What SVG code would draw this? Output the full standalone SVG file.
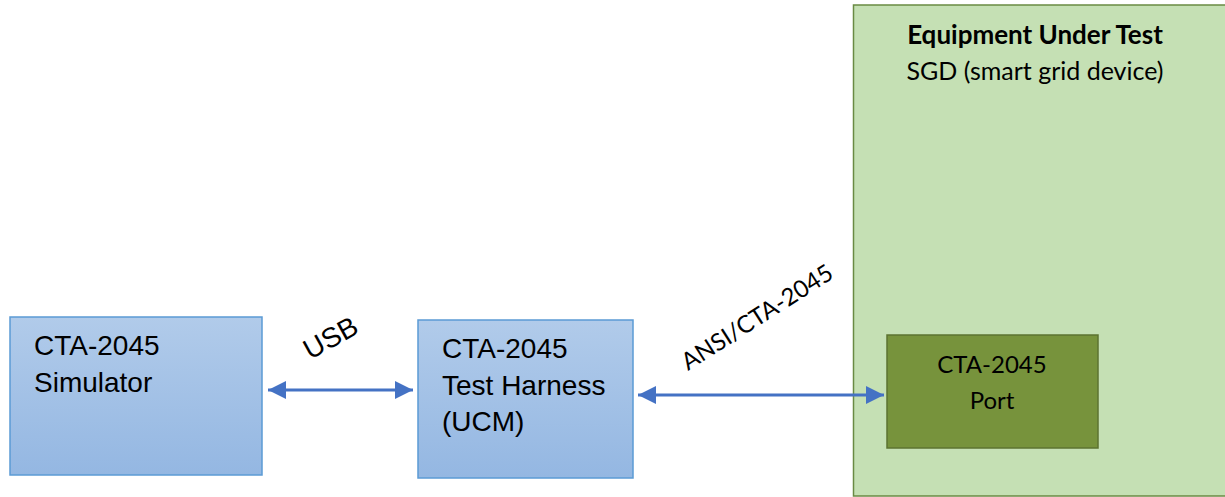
<svg xmlns="http://www.w3.org/2000/svg" width="1225" height="497" viewBox="0 0 1225 497">
  <defs>
    <linearGradient id="blueFill" x1="0" y1="0" x2="0" y2="1">
      <stop offset="0" stop-color="#B1CBEA"/>
      <stop offset="1" stop-color="#94B7E2"/>
    </linearGradient>
    <marker id="head" viewBox="0 0 10 10" refX="10" refY="5" markerWidth="6" markerHeight="6" markerUnits="strokeWidth" orient="auto-start-reverse">
      <path d="M0,0 L10,5 L0,10 Z" fill="#4472C4"/>
    </marker>
  </defs>
  <style>
    .blue { fill: url(#blueFill); stroke: #5B9BD5; stroke-width: 1.5; }
    .arial { font-family: "Liberation Sans", Arial, sans-serif; font-size: 28px; fill: #000; }
    .cal { font-family: Lato, "Liberation Sans", sans-serif; font-size: 24px; fill: #000; }
    .title { font-weight: bold; font-size: 26px; }
    .sub { font-size: 25px; }
    .link { stroke: #4472C4; stroke-width: 3; fill: none; marker-start: url(#head); marker-end: url(#head); }
  </style>

  <!-- equipment under test enclosure -->
  <g id="eut">
    <rect x="853.5" y="5" width="400" height="491" fill="#C5E0B4" stroke="#6A8A43" stroke-width="1.5"/>
    <text class="cal title" x="1035" y="44" text-anchor="middle">Equipment Under Test</text>
    <text class="cal sub" x="1035" y="80" text-anchor="middle">SGD (smart grid device)</text>
  </g>

  <!-- port on the device -->
  <g id="port">
    <rect x="887" y="335" width="211" height="113" fill="#77933C" stroke="#5C7330" stroke-width="1.5"/>
    <text class="cal" x="992" y="373" text-anchor="middle">CTA-2045</text>
    <text class="cal" x="992" y="409" text-anchor="middle">Port</text>
  </g>

  <!-- simulator -->
  <g id="simulator">
    <rect class="blue" x="10" y="317" width="252" height="158"/>
    <text class="arial" x="34" y="355">CTA-2045</text>
    <text class="arial" x="34" y="392">Simulator</text>
  </g>

  <!-- test harness -->
  <g id="harness">
    <rect class="blue" x="418" y="320" width="215" height="158"/>
    <text class="arial" x="442" y="358">CTA-2045</text>
    <text class="arial" x="442" y="395">Test Harness</text>
    <text class="arial" x="442" y="431">(UCM)</text>
  </g>

  <!-- connectors -->
  <g id="connectors">
    <line class="link" x1="268" y1="390" x2="413" y2="390"/>
    <text class="arial" transform="translate(310,360) rotate(-29)">USB</text>
    <line class="link" x1="638" y1="395" x2="884" y2="395"/>
    <text class="cal" transform="translate(688,371) rotate(-32.5)">ANSI/CTA-2045</text>
  </g>
</svg>
